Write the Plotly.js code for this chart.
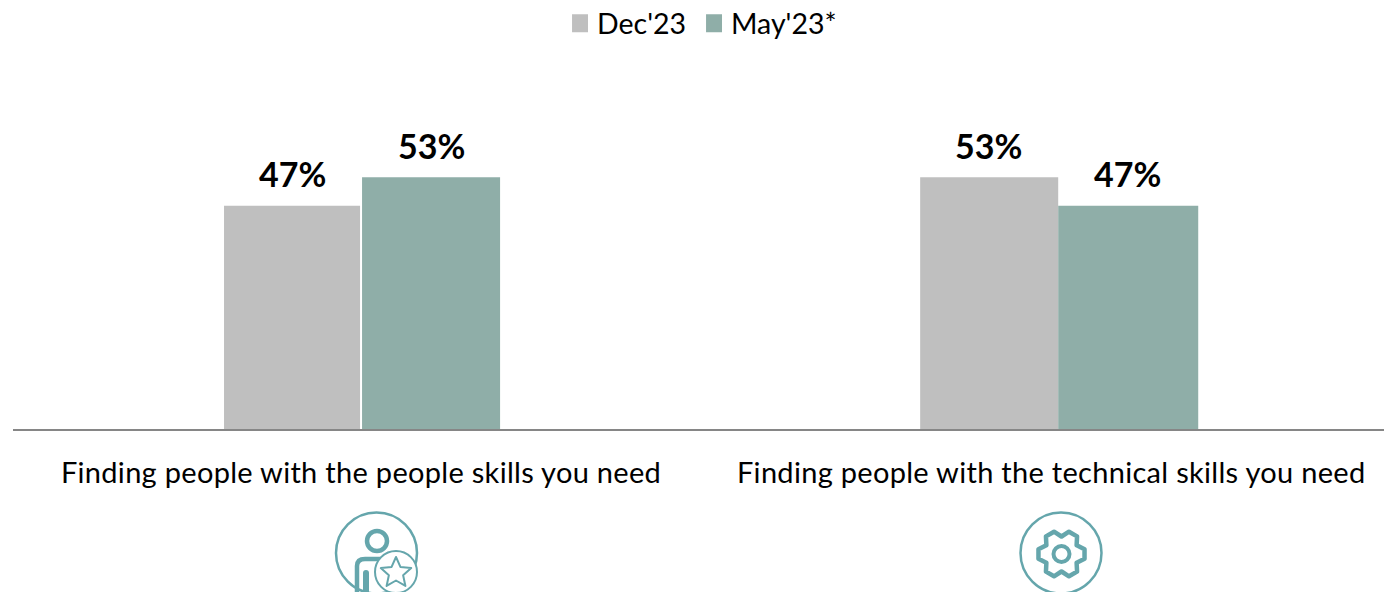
<!DOCTYPE html>
<html>
<head>
<meta charset="utf-8">
<script src="https://cdn.plot.ly/plotly-3.0.1.min.js"></script>
<style>
html,body{margin:0;padding:0;background:#fff;overflow:hidden}
.xtick text{letter-spacing:.3px}
.shapelayer path{stroke-linejoin:round;stroke-linecap:round}
</style>
</head>
<body>
<div id="chart" style="width:1384px;height:592px"></div>
<script>
// Chart content
const categories = ["Finding people with the people skills you need", "Finding people with the technical skills you need"];
const seriesNames = ["Dec'23", "May'23*"];
const dec23 = [47, 53];
const may23 = [53, 47];

const GREY = "#BFBFBF", SAGE = "#8FAEA8", TEAL = "#65A6AC";
const FONT = "Lato, Carlito, Calibri, sans-serif";

// Category spacing in pixels, used to size the clustered bars
const CAT = 696;

function barTrace(name, values, colour, widthsPx, offsetsPx) {
  return {
    type: "bar", name, x: categories, y: values,
    marker: {color: colour},
    width: widthsPx.map(w => w / CAT),
    offset: offsetsPx.map(o => o / CAT),
    cliponaxis: false
  };
}

// Value labels sit at a fixed distance above each bar
function valueLabels(values, shiftPx) {
  return values.map((v, i) => ({
    x: i + shiftPx / CAT, y: v, xref: "x", yref: "y",
    text: v + "%", showarrow: false, yanchor: "middle", yshift: 32,
    font: {family: FONT, size: 34, color: "#000", weight: 700}
  }));
}

// Pictograms below the axis, placed in page pixels
const W = 1384, H = 592, L = 13, B = 163, T = 60;
const px = x => (x - L) / (W - L);
const py = y => (H - B - y) / (H - B - T);
function circle(cx, cy, r, lw, fill) {
  return {type: "circle", xref: "paper", yref: "paper",
    x0: px(cx - r), x1: px(cx + r), y0: py(cy + r), y1: py(cy - r),
    line: {color: TEAL, width: lw}, fillcolor: fill || "rgba(0,0,0,0)", layer: "above"};
}
function path(points, lw) {
  const d = points.map((p, i) => (i ? "L" : "M") + px(p[0]) + "," + py(p[1])).join("") + "Z";
  return {type: "path", xref: "paper", yref: "paper", path: d,
    line: {color: TEAL, width: lw}, fillcolor: "rgba(0,0,0,0)", layer: "above"};
}
function curve(d, lw) {
  const s = d.replace(/(-?[\d.]+) (-?[\d.]+)/g, (m, a, b) => px(+a) + "," + py(+b));
  return {type: "path", xref: "paper", yref: "paper", path: s,
    line: {color: TEAL, width: lw}, fillcolor: "rgba(0,0,0,0)", layer: "above"};
}

// Gear outline: six teeth round a centre
function gear(cx, cy) {
  const pts = [];
  for (let k = 0; k < 6; k++) {
    const a = k * Math.PI / 3;
    [[17.5, -0.52], [23.5, -0.2], [23.5, 0.2], [17.5, 0.52]].forEach(([r, d]) => {
      pts.push([cx + r * Math.cos(a + d), cy + r * Math.sin(a + d)]);
    });
  }
  return pts;
}
// Five-pointed star for the badge
function star(cx, cy, R, r) {
  const pts = [];
  for (let k = 0; k < 10; k++) {
    const a = -Math.PI / 2 + k * Math.PI / 5, q = k % 2 ? r : R;
    pts.push([cx + q * Math.cos(a), cy + q * Math.sin(a)]);
  }
  return pts;
}

const shapes = [
  // person with star badge
  circle(376.5, 553, 40.5, 2.5),
  circle(377, 541, 10, 4.5),
  curve("M 357 592 L 357 566 Q 357 559 365 559 L 386 559", 4.5),
  curve("M 366 573 L 366 592", 6),
  circle(396, 572, 21, 2, "#fff"),
  path(star(396, 573, 16, 7.5), 2),
  // gear
  circle(1061, 553, 40.5, 2.5),
  circle(1061.5, 554, 8, 4),
  path(gear(1061.5, 554), 4.5)
];

const layout = {
  width: W, height: H, autosize: false,
  margin: {l: L, r: 0, t: T, b: B, pad: 0, autoexpand: false},
  paper_bgcolor: "#fff", plot_bgcolor: "#fff",
  font: {family: FONT, color: "#000"},
  showlegend: true,
  legend: {orientation: "h", x: 0.3968, xanchor: "left", y: 1.1675, yanchor: "top",
    font: {family: FONT, size: 28.5, color: "#000"}, itemwidth: 30, traceorder: "normal",
    itemclick: false, itemdoubleclick: false},
  barmode: "overlay",
  xaxis: {
    type: "category",
    automargin: false,
    range: [-0.5014, 1.468],
    tickmode: "array", tickvals: [-0.0015, 0.99], ticktext: categories,
    tickfont: {family: FONT, size: 29, color: "#000"},
    ticks: "outside", tickcolor: "rgba(0,0,0,0)", ticklen: 17,
    showgrid: false, zeroline: false,
    showline: true, linecolor: "#868686", linewidth: 2
  },
  yaxis: {range: [0, 369 / 4.75], visible: false, showgrid: false, zeroline: false},
  annotations: [...valueLabels(dec23, -70), ...valueLabels(may23, 69)],
  shapes
};

const traces = [
  barTrace(seriesNames[0], dec23, GREY, [136, 138], [-138, -138]),
  barTrace(seriesNames[1], may23, SAGE, [138, 140], [0, 0])
];

Plotly.newPlot("chart", traces, layout, {displayModeBar: false, staticPlot: true}).then(() => {
  // Enlarge the legend swatches to suit the large legend text
  document.querySelectorAll(".legendpoints path").forEach(p => {
    p.setAttribute("transform", "translate(23,0) scale(1.33,1.5)");
  });
});
</script>
</body>
</html>
